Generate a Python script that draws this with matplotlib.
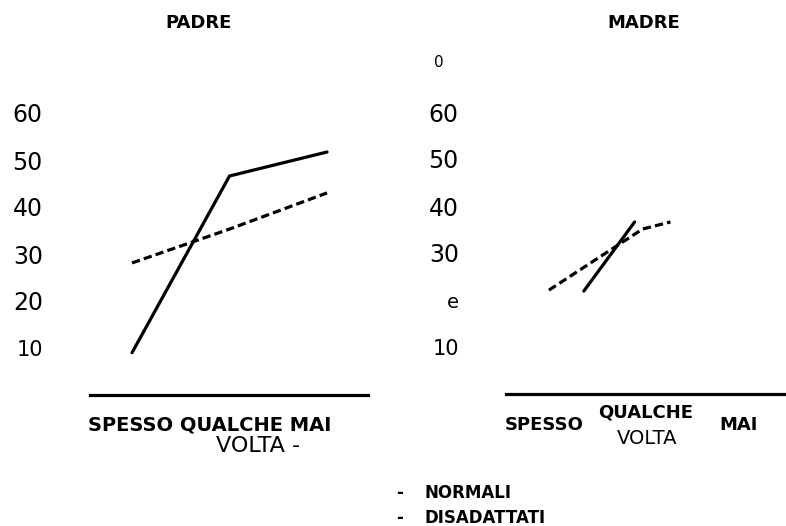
import matplotlib
matplotlib.use("Agg")
import matplotlib.pyplot as plt
import matplotlib.transforms as mtransforms

# ---- data ----
categories_left = "SPESSO QUALCHE MAI"
left_x = [0, 1, 2]
padre_normali = [9.0, 46.6, 51.7]        # solid
padre_disadattati = [28.1, 35.3, 43.0]   # dashed

madre_dis_x = [0.0, 0.94, 1.22]
madre_disadattati = [22.1, 35.1, 36.6]   # dashed
madre_norm_x = [0.35, 0.86]
madre_normali = [21.9, 36.6]             # solid

yticks = [10, 20, 30, 40, 50, 60]
left_ylabels = ["10", "20", "30", "40", "50", "60"]
right_ylabels = ["10", "e", "30", "40", "50", "60"]
legend_labels = ["NORMALI", "DISADATTATI"]

W, H = 786, 526
fig = plt.figure(figsize=(W / 100, H / 100), dpi=100)
fig.patch.set_facecolor("white")

def px_axes(x0, x1, ybot, ytop):
    return fig.add_axes([x0 / W, (H - ybot) / H, (x1 - x0) / W, (ybot - ytop) / H])

ylim = (0, 75)
xlim = (-0.431, 2.42)

axL = px_axes(90, 368, 395, 395 - 75 * 4.7)
axR = px_axes(506, 790, 394, 394 - 75 * 4.7)

for ax, labels in ((axL, left_ylabels), (axR, right_ylabels)):
    ax.set_xlim(xlim)
    ax.set_ylim(ylim)
    for s in ("top", "right", "left"):
        ax.spines[s].set_visible(False)
    ax.spines["bottom"].set_linewidth(2.3)
    ax.set_xticks([])
    ax.set_yticks(yticks)
    ax.set_yticklabels(labels)
    ax.tick_params(axis="y", length=0, pad=34, labelsize=17)
    ax.set_facecolor("none")
    for lbl in ax.get_yticklabels():
        if lbl.get_text() == "10":
            lbl.set_fontsize(15)
        if lbl.get_text() == "e":
            lbl.set_fontsize(14)

dash = (0, (2.6, 1.3))
axL.plot(left_x, padre_normali, color="black", lw=2.3, solid_capstyle="round",
         solid_joinstyle="miter")
axL.plot(left_x, padre_disadattati, color="black", lw=2.3, linestyle=dash)
axR.plot(madre_norm_x, madre_normali, color="black", lw=2.3, solid_capstyle="round")
axR.plot(madre_dis_x, madre_disadattati, color="black", lw=2.3, linestyle=dash)

# stray "0" label on the right panel
trans = mtransforms.blended_transform_factory(axR.transAxes, axR.transData)
axR.annotate("0", xy=(0, 70.6), xycoords=trans, xytext=(-45, 0),
             textcoords="offset points", ha="right", va="center", fontsize=11)

def ftext(x, y, s, **kw):
    fig.text(x / W, 1 - y / H, s, ha="center", va="center", **kw)

ftext(199, 23, "PADRE", fontsize=13, fontweight="bold")
ftext(644, 23, "MADRE", fontsize=13, fontweight="bold")

ftext(210, 425, categories_left, fontsize=14, fontweight="bold")
ftext(258, 446, "VOLTA -", fontsize=16)

ftext(544, 425, "SPESSO", fontsize=13, fontweight="bold")
ftext(646, 412, "QUALCHE", fontsize=13, fontweight="bold")
ftext(647, 438, "VOLTA", fontsize=14)
ftext(739, 425, "MAI", fontsize=13, fontweight="bold")

for i, lab in enumerate(legend_labels):
    y = 493 + 25 * i
    ftext(400, y, "-", fontsize=12, fontweight="bold")
    fig.text(425 / W, 1 - y / H, lab, ha="left", va="center",
             fontsize=12, fontweight="bold")

fig.savefig("out.png", dpi=100)
